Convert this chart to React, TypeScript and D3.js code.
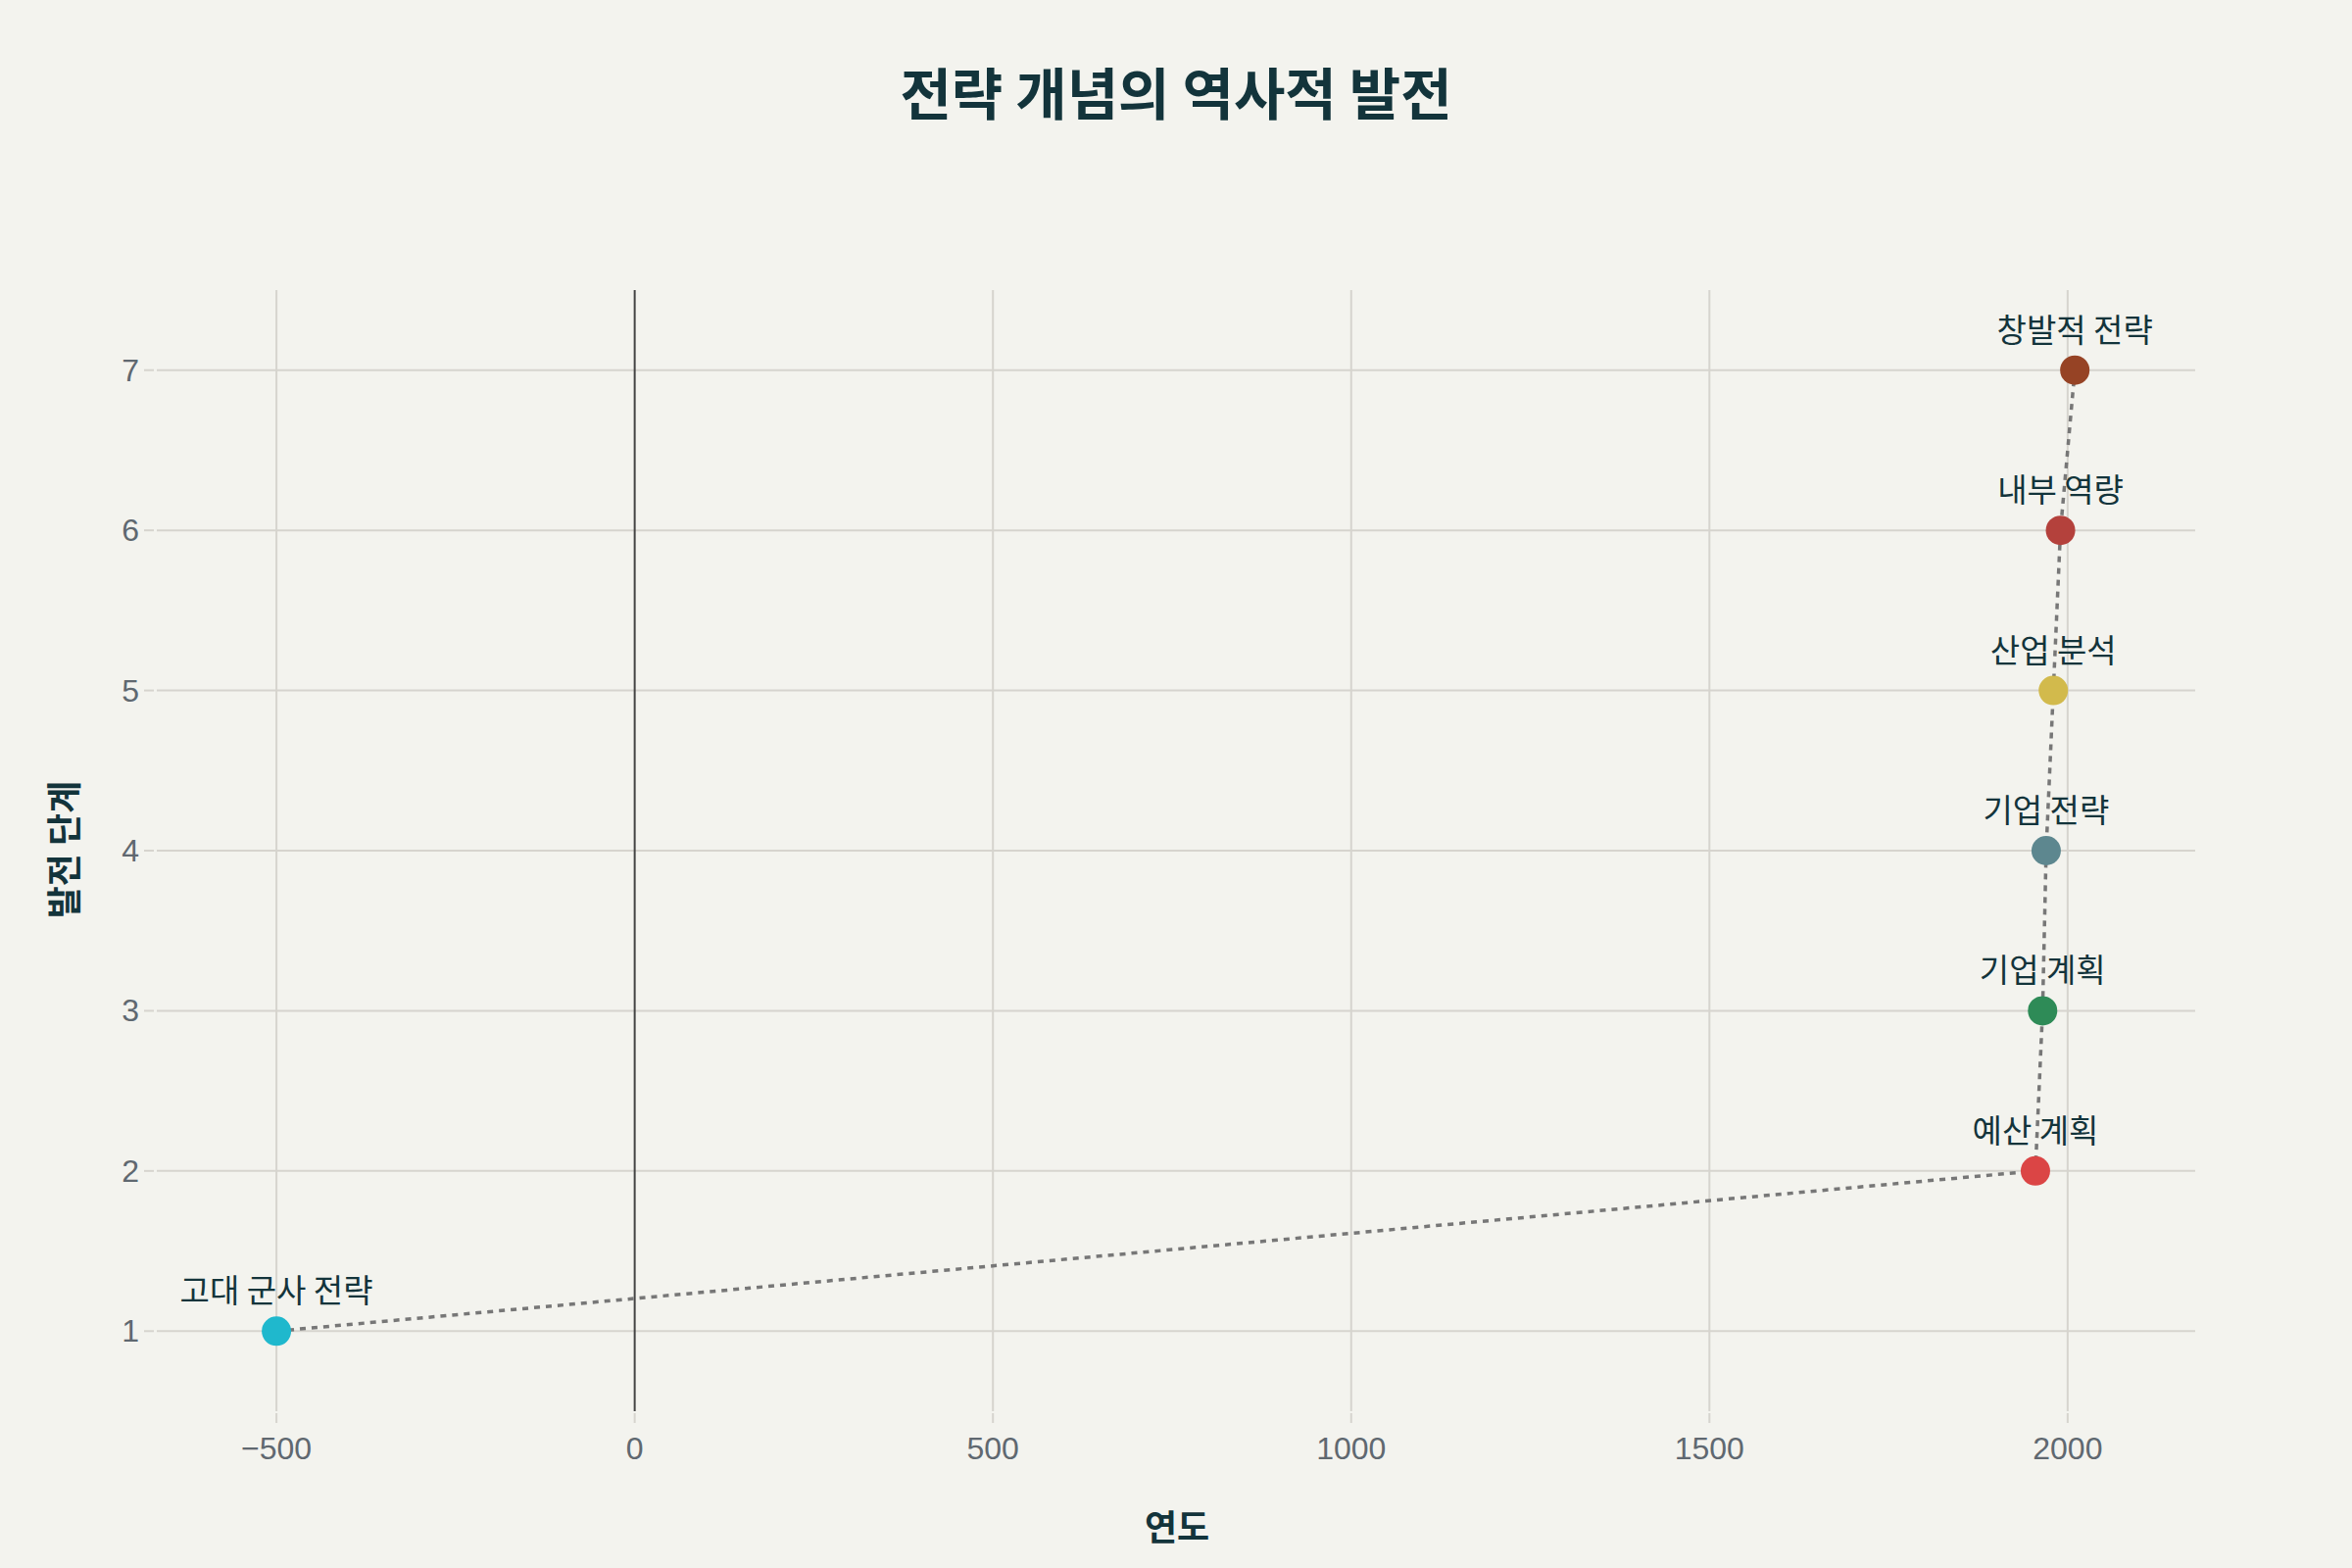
import React, { useEffect } from 'react';
import * as d3 from 'd3';

// data
const stages = ['고대 군사 전략', '예산 계획', '기업 계획', '기업 전략', '산업 분석', '내부 역량', '창발적 전략'];
const years = [-500, 1955, 1965, 1970, 1980, 1990, 2010];
const levels = [1, 2, 3, 4, 5, 6, 7];
const colors = ['#1FB8CD', '#DB4545', '#2E8B57', '#5D878F', '#D2BA4C', '#B4413C', '#964325'];
const xTicks = [-500, 0, 500, 1000, 1500, 2000];
const yTicks = [1, 2, 3, 4, 5, 6, 7];

const W = 2400;
const H = 1600;
const plot = { left: 160, right: 2240, top: 296, bottom: 1440 };

const TITLE = '#13343B';
const GRID = '#D6D4CE';
const TICK_TEXT = '#5F6870';

const App: React.FC = () => {
  useEffect(() => {
    document.body.style.margin = '0';
  }, []);

  const x = d3.scaleLinear().domain([-667, 2178]).range([plot.left, plot.right]);
  const y = d3.scaleLinear().domain([0.5, 7.5]).range([plot.bottom, plot.top]);
  const fmt = d3.format(',~d');

  const pts: [number, number][] = years.map((yr, i) => [x(yr), y(levels[i])]);
  const line = d3.line<[number, number]>()(pts) || '';

  const cjk = '"Noto Sans CJK KR", "Noto Sans", sans-serif';
  const numFont = '"Liberation Sans", Arial, sans-serif';

  return (
    <svg width={W} height={H} style={{ display: 'block', background: '#F3F3EE' }}>
      <rect x={0} y={0} width={W} height={H} fill="#F3F3EE" />

      {/* title */}
      <text x={1200} y={117} textAnchor="middle" fontFamily={cjk} fontWeight={700} fontSize={57} fill={TITLE}>
        전략 개념의 역사적 발전
      </text>

      {/* vertical grid + x ticks */}
      {xTicks.map(t => (
        <g key={`x${t}`}>
          {t !== 0 && (
            <line x1={x(t)} x2={x(t)} y1={plot.top} y2={plot.bottom} stroke={GRID} strokeWidth={2} />
          )}
          <line x1={x(t)} x2={x(t)} y1={plot.bottom + 2} y2={plot.bottom + 12} stroke={GRID} strokeWidth={2} />
          <text x={x(t)} y={1489} textAnchor="middle" fontFamily={numFont} fontSize={32} fill={TICK_TEXT}>
            {fmt(t).replace(/,/g, '')}
          </text>
        </g>
      ))}

      {/* horizontal grid + y ticks */}
      {yTicks.map(t => (
        <g key={`y${t}`}>
          <line x1={plot.left} x2={plot.right} y1={y(t)} y2={y(t)} stroke={GRID} strokeWidth={2} />
          <line x1={plot.left - 13} x2={plot.left - 3} y1={y(t)} y2={y(t)} stroke={GRID} strokeWidth={2} />
          <text x={142} y={y(t) + 11} textAnchor="end" fontFamily={numFont} fontSize={32} fill={TICK_TEXT}>
            {t}
          </text>
        </g>
      ))}

      {/* zero line */}
      <line x1={x(0)} x2={x(0)} y1={plot.top} y2={plot.bottom} stroke="#444444" strokeWidth={2} />

      {/* connecting dotted line */}
      <path d={line} fill="none" stroke="#777777" strokeWidth={3.5} strokeDasharray="6,6" />

      {/* markers */}
      {pts.map(([cx, cy], i) => (
        <circle key={`m${i}`} cx={cx} cy={cy} r={15} fill={colors[i]} />
      ))}

      {/* labels */}
      {pts.map(([cx, cy], i) => (
        <text key={`l${i}`} x={cx} y={cy - 29} textAnchor="middle" fontFamily={cjk} fontSize={33} fill={TITLE}>
          {stages[i]}
        </text>
      ))}

      {/* axis titles */}
      <text x={1201} y={1572} textAnchor="middle" fontFamily={cjk} fontWeight={700} fontSize={36} fill={TITLE}>
        연도
      </text>
      <text
        transform={`translate(79, 867) rotate(-90)`}
        textAnchor="middle"
        fontFamily={cjk}
        fontWeight={700}
        fontSize={36}
        fill={TITLE}
      >
        발전 단계
      </text>
    </svg>
  );
};

export default App;
